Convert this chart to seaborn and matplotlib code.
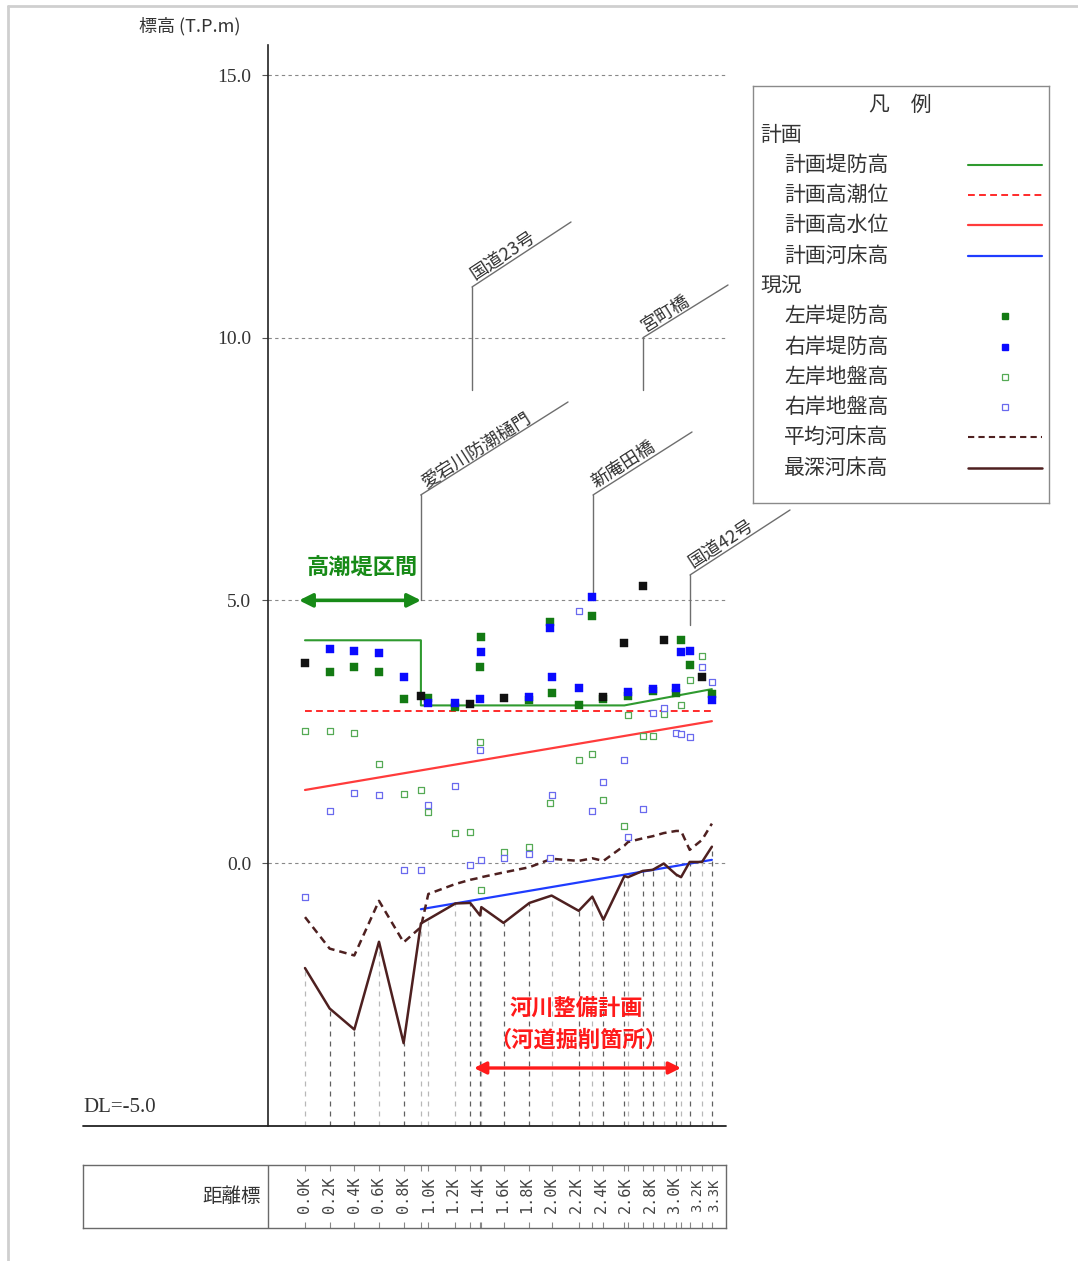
import numpy as np
import pandas as pd
import matplotlib
matplotlib.use("Agg")
import matplotlib.pyplot as plt
import seaborn as sns
from matplotlib.lines import Line2D

# ---------------------------------------------------------------------------
# Longitudinal profile data (distance in km, elevation in T.P.m)
# ---------------------------------------------------------------------------
dike_plan_km = [0.00, 0.94, 0.94, 2.59, 3.30]
dike_plan_el = [4.24, 4.24, 3.00, 3.00, 3.31]

tide_km = [0.00, 3.30]
tide_el = [2.90, 2.90]

hwl_km = [0.00, 3.30]
hwl_el = [1.39, 2.70]

bed_plan_km = [0.94, 3.30]
bed_plan_el = [-0.88, 0.06]

section_km = [0.00, 0.20, 0.40, 0.60, 0.80, 0.94, 1.00, 1.22, 1.34, 1.42, 1.43,
              1.61, 1.82, 2.00, 2.22, 2.33, 2.42, 2.59, 2.62, 2.74, 2.82, 2.91,
              3.01, 3.05, 3.12, 3.22, 3.30]
avg_bed_el = [-1.03, -1.63, -1.76, -0.72, -1.51, -1.22, -0.59, -0.40, -0.32, -0.28, -0.27,
              -0.18, -0.08, 0.08, 0.04, 0.09, 0.04, 0.33, 0.40, 0.47, 0.51, 0.57,
              0.61, 0.61, 0.25, 0.44, 0.75]
deep_bed_el = [-2.00, -2.77, -3.17, -1.50, -3.43, -1.15, -1.07, -0.77, -0.76, -1.00, -0.84,
               -1.14, -0.76, -0.62, -0.91, -0.64, -1.08, -0.25, -0.27, -0.15, -0.13, -0.01,
               -0.22, -0.27, 0.02, 0.02, 0.31]
section_dark = [0, 1, 1, 0, 1, 0, 0, 0, 1, 1, 0,
                1, 1, 0, 1, 0, 1, 1, 0, 1, 1, 0,
                1, 0, 1, 0, 1]

left_dike_km = [0.20, 0.40, 0.60, 0.80, 1.00, 1.22, 1.42, 1.43, 1.82, 1.99, 2.00,
                2.22, 2.33, 2.42, 2.62, 2.82, 3.01, 3.05, 3.12, 3.30]
left_dike_el = [3.64, 3.73, 3.64, 3.12, 3.14, 2.97, 3.73, 4.30, 3.10, 4.59, 3.24,
                3.00, 4.71, 3.12, 3.17, 3.27, 3.23, 4.24, 3.76, 3.22]

right_dike_km = [0.20, 0.40, 0.60, 0.80, 1.00, 1.22, 1.42, 1.43, 1.82, 1.99, 2.00,
                 2.22, 2.33, 2.62, 2.82, 3.01, 3.05, 3.12, 3.30]
right_dike_el = [4.07, 4.03, 4.00, 3.55, 3.05, 3.04, 3.12, 4.02, 3.16, 4.48, 3.54,
                 3.34, 5.06, 3.26, 3.32, 3.34, 4.02, 4.03, 3.11]

both_dike_km = [0.00, 0.94, 1.34, 1.61, 2.42, 2.59, 2.74, 2.91, 3.22]
both_dike_el = [3.80, 3.17, 3.02, 3.14, 3.16, 4.18, 5.27, 4.24, 3.54]

left_ground_km = [0.00, 0.20, 0.40, 0.60, 0.80, 0.94, 1.00, 1.22, 1.34, 1.42, 1.43,
                  1.61, 1.82, 1.99, 2.22, 2.33, 2.42, 2.59, 2.62, 2.74, 2.82, 2.91,
                  3.05, 3.12, 3.22]
left_ground_el = [2.51, 2.51, 2.48, 1.88, 1.31, 1.39, 0.97, 0.58, 0.59, 2.31, -0.51,
                  0.20, 0.30, 1.15, 1.97, 2.07, 1.20, 0.71, 2.81, 2.41, 2.41, 2.83,
                  3.01, 3.49, 3.95]

right_ground_km = [0.00, 0.20, 0.40, 0.60, 0.80, 0.94, 1.00, 1.22, 1.34, 1.42, 1.43,
                   1.61, 1.82, 1.99, 2.00, 2.22, 2.33, 2.42, 2.59, 2.62, 2.74, 2.82,
                   2.91, 3.01, 3.05, 3.12, 3.22, 3.30]
right_ground_el = [-0.65, 0.99, 1.34, 1.29, -0.13, -0.13, 1.11, 1.46, -0.04, 2.15, 0.06,
                   0.10, 0.17, 0.10, 1.29, 4.79, 0.99, 1.54, 1.96, 0.49, 1.03, 2.86,
                   2.96, 2.48, 2.46, 2.40, 3.74, 3.44]

km_ticks = [0.0, 0.2, 0.4, 0.6, 0.8, 1.0, 1.2, 1.4, 1.6, 1.8, 2.0, 2.2, 2.4,
            2.6, 2.8, 3.0, 3.2, 3.3]
km_labels = ["0.0K", "0.2K", "0.4K", "0.6K", "0.8K", "1.0K", "1.2K", "1.4K", "1.6K",
             "1.8K", "2.0K", "2.2K", "2.4K", "2.6K", "2.8K", "3.0K", "3.2K", "3.3K"]
el_ticks = [0.0, 5.0, 10.0, 15.0]
el_labels = ["0.0", "5.0", "10.0", "15.0"]

legend_plan = ["計画堤防高", "計画高潮位", "計画高水位", "計画河床高"]
legend_now = ["左岸堤防高", "右岸堤防高", "左岸地盤高", "右岸地盤高", "平均河床高", "最深河床高"]

# ---------------------------------------------------------------------------
# Styling
# ---------------------------------------------------------------------------
sns.set_theme(style="white")
plt.rcParams["font.family"] = ["Noto Sans CJK JP", "DejaVu Sans"]
plt.rcParams["axes.unicode_minus"] = False

C_DIKE = "#2f9a2f"
C_TIDE = "#ff2a2a"
C_HWL = "#ff3b3b"
C_BEDP = "#1f3cff"
C_BROWN = "#4e2020"
C_LDIKE = "#137a13"
C_RDIKE = "#0a0aff"
C_LGRD = "#55aa55"
C_RGRD = "#6a6aee"
C_TXT = "#333333"
SERIF = ["Liberation Serif", "DejaVu Serif"]

W, H = 1078, 1261
fig = plt.figure(figsize=(W / 100, H / 100), dpi=100)
fig.patch.set_facecolor("white")


def fx(px):
    return px / W


def fy(py):
    return 1 - py / H


# pixel <-> data mapping of the profile panel
X0, KX = 305.0, 123.3
Y0, KY = 863.0, 52.53


def dkm(px):
    return (px - X0) / KX


def dev(py):
    return (Y0 - py) / KY


ax = fig.add_axes([fx(268), fy(1125.7), fx(726) - fx(268), fy(45) - fy(1125.7)])
ax.set_xlim(dkm(268), dkm(726))
ax.set_ylim(dev(1125.7), dev(45))
ax.set_facecolor("white")
for s in ["top", "right", "bottom"]:
    ax.spines[s].set_visible(False)
ax.spines["left"].set_color("#222222")
ax.spines["left"].set_linewidth(1.2)
ax.set_xticks([])
ax.set_yticks(el_ticks)
ax.set_yticklabels(el_labels, fontfamily=SERIF, fontsize=14, color=C_TXT)
ax.tick_params(axis="y", direction="out", length=4, width=0.8, color="#555555", pad=8, left=True)
ax.set_xlabel("")
ax.set_ylabel("")

# reference grid
ax.hlines(el_ticks, dkm(268), dkm(726), colors="#888888", linestyles=(0, (3, 3)), lw=0.8, zorder=1)

# base line (DL)
ax.plot([dkm(83), dkm(726)], [-5.0, -5.0], color="#222222", lw=1.3, clip_on=False, zorder=5)

# survey section lines
dark_km = [k for k, f in zip(section_km, section_dark) if f]
dark_top = [v for v, f in zip(deep_bed_el, section_dark) if f]
light_km = [k for k, f in zip(section_km, section_dark) if not f]
light_top = [v for v, f in zip(deep_bed_el, section_dark) if not f]
ax.vlines(light_km, -5.0, light_top, colors="#b8b8b8", linestyles=(0, (4, 4)), lw=0.9, zorder=1)
ax.vlines(dark_km, -5.0, dark_top, colors="#606060", linestyles=(0, (4, 4)), lw=0.9, zorder=1)

# planned lines
sns.lineplot(x=dike_plan_km, y=dike_plan_el, sort=False, estimator=None, color=C_DIKE, lw=1.5, ax=ax, zorder=3)
sns.lineplot(x=tide_km, y=tide_el, sort=False, estimator=None, color=C_TIDE, lw=1.4,
             linestyle=(0, (3.5, 2.2)), ax=ax, zorder=3)
sns.lineplot(x=hwl_km, y=hwl_el, sort=False, estimator=None, color=C_HWL, lw=1.6, ax=ax, zorder=3)
sns.lineplot(x=bed_plan_km, y=bed_plan_el, sort=False, estimator=None, color=C_BEDP, lw=1.6, ax=ax, zorder=3)

# current riverbed
sns.lineplot(x=section_km, y=avg_bed_el, sort=False, estimator=None, color=C_BROWN, lw=1.8,
             linestyle=(0, (3, 2)), ax=ax, zorder=3)
sns.lineplot(x=section_km, y=deep_bed_el, sort=False, estimator=None, color=C_BROWN, lw=1.8, ax=ax, zorder=3)

# ground elevations (open squares)
sns.scatterplot(x=left_ground_km, y=left_ground_el, marker="s", s=24, color=C_LGRD,
                facecolor="white", edgecolor=C_LGRD, linewidth=0.9, ax=ax, zorder=4, legend=False)
sns.scatterplot(x=right_ground_km, y=right_ground_el, marker="s", s=24, color=C_RGRD,
                facecolor="white", edgecolor=C_RGRD, linewidth=0.9, ax=ax, zorder=4, legend=False)

# dike crowns (filled squares)
sns.scatterplot(x=left_dike_km, y=left_dike_el, marker="s", s=34, color=C_LDIKE,
                edgecolor=C_LDIKE, linewidth=0.3, ax=ax, zorder=5, legend=False)
sns.scatterplot(x=right_dike_km, y=right_dike_el, marker="s", s=34, color=C_RDIKE,
                edgecolor=C_RDIKE, linewidth=0.3, ax=ax, zorder=5, legend=False)
sns.scatterplot(x=both_dike_km, y=both_dike_el, marker="s", s=34, color="#111111",
                edgecolor="#111111", linewidth=0.3, ax=ax, zorder=6, legend=False)


# structures crossing the river
def structure(km, y_base, y_knee, km_end, y_end, label, fs):
    ax.plot([km, km], [y_base, y_knee], color="#6e6e6e", lw=1.0, clip_on=False, zorder=2)
    ax.plot([km, km_end], [y_knee, y_end], color="#6e6e6e", lw=1.0, clip_on=False, zorder=2)
    ang = np.degrees(np.arctan2((y_end - y_knee) * KY, (km_end - km) * KX))
    f = 0.05
    tx = km + f * (km_end - km)
    ty = y_knee + f * (y_end - y_knee)
    ax.text(tx, ty, label, rotation=ang, rotation_mode="anchor", ha="left", va="bottom",
            fontsize=fs, color=C_TXT, clip_on=False, zorder=2)


structure(dkm(472), 9.0, dev(287), dkm(571), dev(222), "国道23号", 13)
structure(dkm(643), 9.0, 10.0, dkm(728), dev(285), "宮町橋", 13)
structure(dkm(420.7), 5.0, dev(495), dkm(568), dev(402), "愛宕川防潮樋門", 13)
structure(dkm(593), 5.0, dev(495), dkm(692), dev(432), "新庵田橋", 13)
structure(dkm(690), dev(625), dev(575), dkm(790), dev(510), "国道42号", 13)

# section annotations
ax.annotate("", xy=(dkm(421), 5.0), xytext=(dkm(299), 5.0),
            arrowprops=dict(arrowstyle="<|-|>", color="#178a17", lw=2.6, mutation_scale=20,
                            shrinkA=0, shrinkB=0), zorder=6)
ax.text(dkm(362), dev(568), "高潮堤区間", ha="center", va="center", fontsize=16,
        fontweight="bold", color="#178a17", zorder=6)

ax.annotate("", xy=(dkm(681), dev(1068)), xytext=(dkm(474), dev(1068)),
            arrowprops=dict(arrowstyle="<|-|>", color="#ff1a1a", lw=2.4, mutation_scale=18,
                            shrinkA=0, shrinkB=0), zorder=6)
ax.text(dkm(576), dev(1008), "河川整備計画", ha="center", va="center", fontsize=16,
        fontweight="bold", color="#ff1a1a", zorder=6)
ax.text(dkm(578), dev(1040), "（河道掘削箇所）", ha="center", va="center", fontsize=16,
        fontweight="bold", color="#ff1a1a", zorder=6)

# axis captions
fig.text(fx(190), fy(26), "標高 (T.P.m)", ha="center", va="center", fontsize=13, color=C_TXT)
fig.text(fx(83), fy(1107), "DL=-5.0", ha="left", va="center", fontsize=15,
         family=SERIF, color=C_TXT)

# ---------------------------------------------------------------------------
# Distance marker table
# ---------------------------------------------------------------------------
tax = fig.add_axes([fx(83), fy(1228), fx(726) - fx(83), fy(1165) - fy(1228)])
tax.set_xlim(dkm(83), dkm(726))
tax.set_ylim(0, 1)
tax.set_xticks([])
tax.set_yticks([])
tax.set_facecolor("white")
for s in tax.spines.values():
    s.set_color("#6a6a6a")
    s.set_linewidth(1.0)
tax.axvline(dkm(268), color="#6a6a6a", lw=1.0)
tax.vlines(section_km, 0.90, 1.0, colors="#888888", lw=0.8)
tax.vlines(section_km, 0.0, 0.10, colors="#888888", lw=0.8)
label_shift = {3.2: -2.0 / KX, 3.3: 2.0 / KX}
for k, lab in zip(km_ticks, km_labels):
    fs = 10 if k >= 3.2 else 11
    tax.text(k + label_shift.get(k, 0.0), 0.52, lab, rotation=90, ha="center", va="center",
             fontsize=fs, family=["DejaVu Sans Mono"], color="#444444")
tax.text(dkm(261), 0.5, "距離標", ha="right", va="center", fontsize=14, color=C_TXT)

# ---------------------------------------------------------------------------
# Legend panel
# ---------------------------------------------------------------------------
lax = fig.add_axes([fx(753), fy(503), fx(1049) - fx(753), fy(86) - fy(503)])
lax.set_xlim(753, 1049)
lax.set_ylim(503, 86)
lax.set_xticks([])
lax.set_yticks([])
lax.set_facecolor("white")
for s in lax.spines.values():
    s.set_color("#8a8a8a")
    s.set_linewidth(1.0)

lax.text(900, 105, "凡　例", ha="center", va="center", fontsize=15, color=C_TXT)
lax.text(760, 135, "計画", ha="left", va="center", fontsize=15, color=C_TXT)
lax.text(760, 286, "現況", ha="left", va="center", fontsize=15, color=C_TXT)

rows_plan = [165, 195, 225, 256]
rows_now = [316, 347, 377, 407, 437, 468]
for y, lab in zip(rows_plan, legend_plan):
    lax.text(784, y, lab, ha="left", va="center", fontsize=15, color=C_TXT)
for y, lab in zip(rows_now, legend_now):
    lax.text(784, y, lab, ha="left", va="center", fontsize=15, color=C_TXT)

lx = [968, 1042]
lax.plot(lx, [rows_plan[0]] * 2, color=C_DIKE, lw=1.5)
lax.plot(lx, [rows_plan[1]] * 2, color=C_TIDE, lw=1.4, linestyle=(0, (3.5, 2.2)))
lax.plot(lx, [rows_plan[2]] * 2, color=C_HWL, lw=1.6)
lax.plot(lx, [rows_plan[3]] * 2, color=C_BEDP, lw=1.6)
lax.plot([1005], [rows_now[0]], marker="s", ms=5, color=C_LDIKE, mec=C_LDIKE)
lax.plot([1005], [rows_now[1]], marker="s", ms=5, color=C_RDIKE, mec=C_RDIKE)
lax.plot([1005], [rows_now[2]], marker="s", ms=4.5, mfc="white", mec=C_LGRD, mew=0.9)
lax.plot([1005], [rows_now[3]], marker="s", ms=4.5, mfc="white", mec=C_RGRD, mew=0.9)
lax.plot(lx, [rows_now[4]] * 2, color=C_BROWN, lw=1.5, linestyle=(0, (3, 2)))
lax.plot(lx, [rows_now[5]] * 2, color=C_BROWN, lw=1.8)

# page frame
fig.add_artist(Line2D([fx(8), fx(1078)], [fy(6), fy(6)], color="#cfcfcf", lw=2))
fig.add_artist(Line2D([fx(8), fx(8)], [fy(6), fy(1261)], color="#cfcfcf", lw=2))

fig.savefig("out.png", dpi=100, facecolor="white")
